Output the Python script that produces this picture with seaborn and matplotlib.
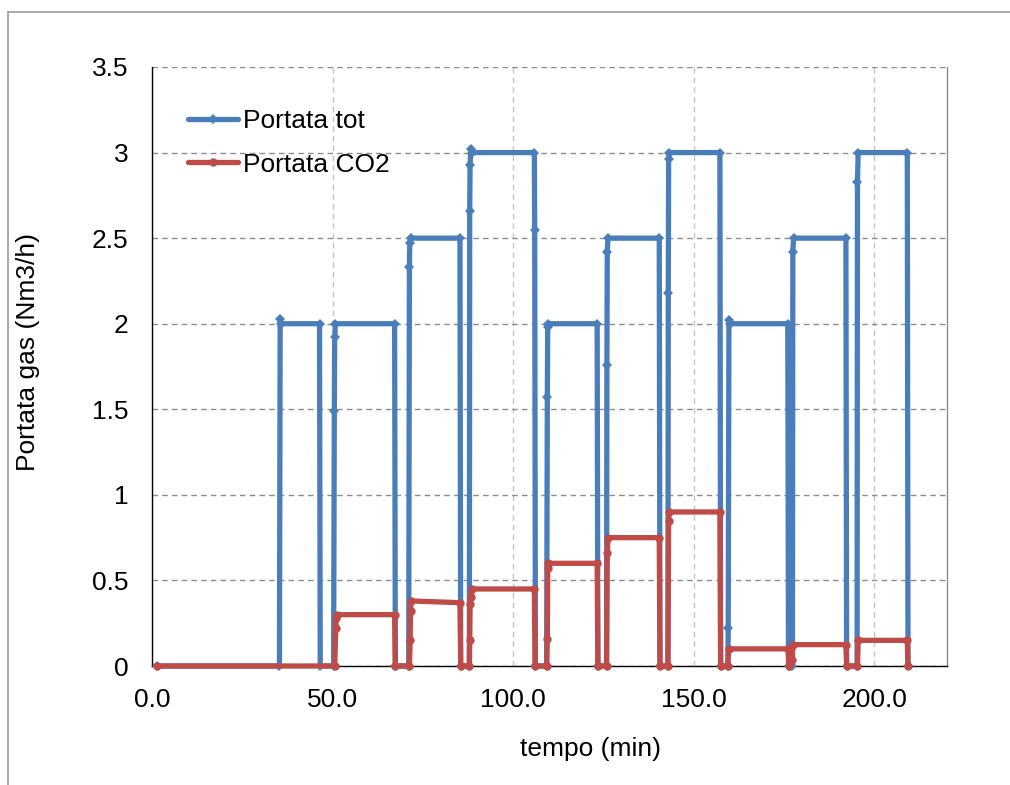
import matplotlib
matplotlib.use("Agg")
import matplotlib.pyplot as plt
import seaborn as sns
import pandas as pd
from matplotlib.lines import Line2D
from matplotlib.ticker import FuncFormatter

# breakpoints of the two flow series
tot_t = [1.5, 35.3, 35.5, 35.7, 46.4, 46.6, 50.3, 50.5, 50.6, 50.8,
         67.2, 67.4, 71.1, 71.3, 71.4, 71.6, 85.3, 85.5, 87.9, 88.0,
         88.1, 88.3, 88.6, 105.9, 106.0, 106.2, 109.3, 109.5, 109.6, 109.8,
         123.3, 123.5, 125.9, 126.0, 126.1, 126.3, 140.5, 140.7, 142.9, 143.0,
         143.1, 143.3, 157.3, 157.5, 159.5, 159.6, 159.8, 160.0, 176.1, 176.3,
         177.4, 177.5, 177.7, 192.2, 192.4, 195.3, 195.4, 195.6, 209.2, 209.4]
tot_v = [0, 0, 2.03, 2.0, 2.0, 0, 0, 1.49, 1.92, 2.0,
         2.0, 0, 0, 2.33, 2.47, 2.5, 2.5, 0, 0, 2.66,
         2.93, 3.02, 3.0, 3.0, 2.55, 0, 0, 1.57, 1.98, 2.0,
         2.0, 0, 0, 1.76, 2.42, 2.5, 2.5, 0, 0, 2.18,
         2.96, 3.0, 3.0, 0, 0, 0.22, 2.02, 2.0, 2.0, 0,
         0, 2.42, 2.5, 2.5, 0, 0, 2.83, 3.0, 3.0, 0]

co2_t = [1.5, 50.6, 50.9, 51.0, 51.2, 67.2, 67.4, 71.3, 71.5, 71.6,
         71.8, 85.3, 85.5, 87.9, 88.0, 88.1, 88.3, 88.5, 105.9, 106.1,
         109.3, 109.5, 109.6, 109.8, 123.3, 123.5, 125.9, 126.1, 126.3, 140.5,
         140.7, 142.9, 143.1, 143.3, 157.3, 157.5, 159.5, 159.7, 176.2, 176.4,
         177.3, 177.5, 192.2, 192.4, 195.4, 195.6, 209.2, 209.4]
co2_v = [0, 0, 0.22, 0.28, 0.30, 0.30, 0, 0, 0.15, 0.32,
         0.38, 0.37, 0, 0, 0.15, 0.36, 0.405, 0.45, 0.45, 0,
         0, 0.16, 0.57, 0.60, 0.60, 0, 0, 0.66, 0.75, 0.75,
         0, 0, 0.85, 0.90, 0.90, 0, 0, 0.10, 0.10, 0,
         0.035, 0.125, 0.125, 0, 0, 0.15, 0.15, 0]

x_ticks = [0, 50, 100, 150, 200]
y_ticks = [0, 0.5, 1, 1.5, 2, 2.5, 3, 3.5]

sns.set_style("white")
plt.rcParams['font.family'] = ['Liberation Sans', 'DejaVu Sans']
plt.rcParams['text.color'] = 'black'
plt.rcParams['axes.labelcolor'] = 'black'
FS = 19

df_tot = pd.DataFrame({'t': tot_t, 'q': tot_v})
df_co2 = pd.DataFrame({'t': co2_t, 'q': co2_v})

fig = plt.figure(figsize=(10.1, 7.85), dpi=100)
ax = fig.add_axes([152 / 1010, 1 - 666 / 785, 795 / 1010, 599 / 785])

sns.lineplot(data=df_tot, x='t', y='q', ax=ax, estimator=None, sort=False,
             color='#4a7ebb', lw=3.8, marker='D', markersize=5,
             markeredgewidth=0, label='Portata tot', zorder=3, clip_on=False)
sns.lineplot(data=df_co2, x='t', y='q', ax=ax, estimator=None, sort=False,
             color='#be4b48', lw=3.8, marker='o', markersize=6,
             markeredgewidth=0, label='Portata CO2', zorder=4, clip_on=False)

ax.set_xlim(0, 220.2)
ax.set_ylim(0, 3.5)
ax.set_xticks(x_ticks)
ax.set_yticks(y_ticks)
ax.xaxis.set_major_formatter(FuncFormatter(lambda v, p: f"{v:.1f}"))
ax.yaxis.set_major_formatter(FuncFormatter(lambda v, p: f"{v:g}"))
ax.tick_params(axis='both', direction='in', length=6, width=1,
               labelsize=FS, colors='black')
ax.tick_params(axis='y', pad=17)
ax.tick_params(axis='x', pad=16)

# excel-like gridlines
ax.grid(axis='y', color='#8c8c8c', lw=1, ls=(0, (4, 3)))
ax.grid(axis='x', color='#c4c4c4', lw=1, ls=(0, (4, 3)))
ax.set_axisbelow(True)

for s in ['left', 'bottom']:
    ax.spines[s].set_color('black')
    ax.spines[s].set_linewidth(1)
ax.spines['right'].set_color('#8c8c8c')
ax.spines['right'].set_linewidth(1)
ax.spines['top'].set_visible(False)

ax.set_xlabel('tempo (min)', fontsize=FS)
ax.set_ylabel('Portata gas (Nm3/h)', fontsize=FS)
ax.xaxis.set_label_coords(0.551, -0.118)
ax.yaxis.set_label_coords(-0.141, 0.525)

ax.legend(loc='upper left', bbox_to_anchor=(0.045, 0.93), frameon=False,
          fontsize=FS, handlelength=1.9, handletextpad=0.2,
          labelspacing=0.75, borderpad=0, borderaxespad=0)

# chart area border (only the left and top edges are visible)
fig.add_artist(Line2D([8 / 1010, 8 / 1010], [0, 1 - 12 / 785],
                      transform=fig.transFigure, color='#999999', lw=1.2))
fig.add_artist(Line2D([8 / 1010, 1], [1 - 12 / 785, 1 - 12 / 785],
                      transform=fig.transFigure, color='#999999', lw=1.2))

fig.savefig('out.png', dpi=100)
